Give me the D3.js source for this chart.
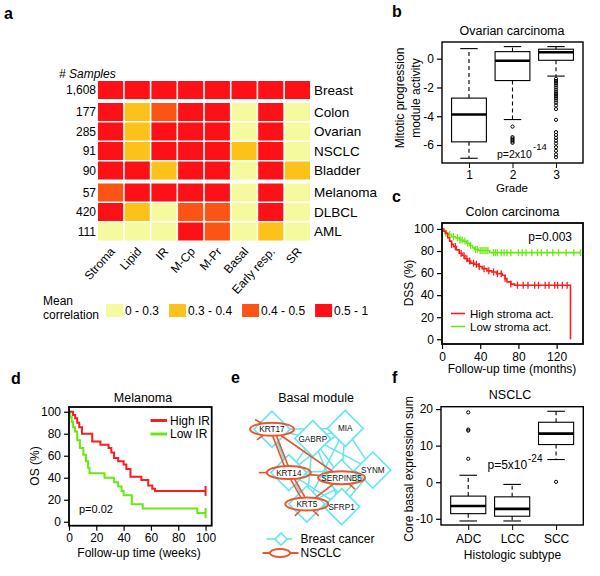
<!DOCTYPE html>
<html>
<head>
<meta charset="utf-8">
<script src="https://cdn.jsdelivr.net/npm/d3@7"></script>
<style>
  body { margin: 0; background: #fff; }
  svg { font-family: "Liberation Sans", Arial, Helvetica, sans-serif; }
</style>
</head>
<body>
<svg id="fig" width="600" height="576"></svg>
<script>
// ---- panel a: mean correlation of module activity across cancers
const modules = ["Stroma", "Lipid", "IR", "M-Cp", "M-Pr", "Basal", "Early resp.", "SR"];
const cancers = ["Breast", "Colon", "Ovarian", "NSCLC", "Bladder", "Melanoma", "DLBCL", "AML"];
const sampleCounts = ["1,608", "177", "285", "91", "90", "57", "420", "111"];
const cancerGroup = [0, 1, 1, 1, 1, 2, 2, 2];
// correlation bin per cell: 0 = 0-0.3, 1 = 0.3-0.4, 2 = 0.4-0.5, 3 = 0.5-1
const corrBin = [
  [3, 3, 3, 3, 3, 3, 3, 3],
  [3, 1, 2, 3, 3, 0, 3, 0],
  [3, 1, 3, 3, 3, 0, 3, 0],
  [3, 1, 3, 3, 3, 1, 3, 0],
  [3, 3, 1, 3, 3, 0, 3, 1],
  [2, 3, 3, 3, 3, 0, 3, 0],
  [3, 1, 0, 2, 2, 0, 3, 0],
  [0, 0, 0, 3, 2, 0, 1, 0]
];
const binLabels = ["0 - 0.3", "0.3 - 0.4", "0.4 - 0.5", "0.5 - 1"];

// ---- panel b: mitotic module activity by grade (ovarian)
const grades = ["1", "2", "3"];
// [lower whisker, Q1, median, Q3, upper whisker]
const gradeStats = [
  [-6.92, -5.78, -3.88, -2.74, 0.70],
  [-4.23, -1.52, -0.14, 0.49, 0.84],
  [-1.21, -0.11, 0.45, 0.66, 0.84]
];
const gradeOutliers = [
  [],
  [-4.72, -5.45, -5.55, -5.65, -5.75, -5.85],
  [-1.4, -1.55, -1.7, -1.85, -2.0, -2.15, -2.3, -2.45, -2.6, -2.75, -2.9, -3.05, -3.25, -3.5,
   -4.25, -5.1, -5.3, -5.5, -5.7, -5.9, -6.15, -6.4, -6.65, -6.85]
];

// ---- panel c: colon carcinoma DSS (time in months, survival %)
const colonHigh = [[0, 100], [2, 98], [4, 96], [6, 92], [8, 89], [10, 86], [12, 84], [15, 81], [18, 78],
  [21, 76], [24, 73], [27, 71], [30, 69], [34, 68], [38, 66], [42, 64], [47, 62], [52, 61], [57, 59.5],
  [63, 58], [66, 55], [68, 52], [72, 50], [76, 49], [134.5, 0]];
const colonHighCensor = [10, 14, 20, 23, 26, 29, 33, 36, 39, 44, 49, 54, 58, 62, 66, 72, 79, 85, 90, 97,
  101, 108, 112, 118, 121, 126, 131];
const colonLow = [[0, 100], [1, 98], [3, 96], [6, 95], [10, 93], [14, 92], [18, 90], [22, 89], [26, 87],
  [29, 85], [32, 83], [34, 81.5], [38, 80.5], [50, 78.5]];
const colonLowCensor = [4, 8, 12, 16, 19, 21, 24, 27, 30, 35, 37, 40, 42, 44, 46, 48, 54, 56, 58, 62, 65,
  68, 72, 80, 84, 88, 94, 100, 104, 110, 116, 122, 130, 138, 145];
const colonLowEnd = 145.5;

// ---- panel d: melanoma OS (time in weeks, survival %)
const melHigh = [[0, 100], [3, 97], [4.5, 94], [6, 90], [7.5, 86], [9.5, 80], [17, 73], [23, 70], [29, 67],
  [31, 63], [33, 58], [36, 55], [40, 52], [42, 48], [45, 41], [53, 38], [58, 33], [61, 30], [63, 28]];
const melLow = [[0, 100], [1, 95], [2, 91], [3, 86], [4.4, 82], [6, 74], [8, 67], [10.5, 61], [12.4, 55],
  [14, 49], [15, 44], [26, 40], [33, 36], [36, 32], [38.5, 28], [40, 24], [46, 16], [54, 12], [94, 8]];
const melEnd = 100;

// ---- panel e: basal module network (layout units 0-100)
const geneNames = ["KRT17", "GABRP", "MIA", "KRT14", "SERPINB5", "SYNM", "KRT5", "SFRP1"];
const geneX = [10, 44, 71, 24, 68, 94, 39, 68];
const geneY = [5, 16, 4, 56, 62, 53, 93, 96];
const inNSCLC = ["KRT17", "KRT14", "SERPINB5", "KRT5"];
const breastEdges = [
  ["KRT17", "GABRP"], ["KRT17", "MIA"], ["KRT17", "KRT14"], ["KRT17", "SERPINB5"], ["KRT17", "KRT5"],
  ["GABRP", "MIA"], ["GABRP", "KRT14"], ["GABRP", "SERPINB5"], ["GABRP", "KRT5"], ["GABRP", "SYNM"],
  ["GABRP", "SFRP1"], ["MIA", "SERPINB5"], ["MIA", "SYNM"], ["MIA", "KRT14"], ["MIA", "KRT5"],
  ["KRT14", "SERPINB5"], ["KRT14", "KRT5"], ["KRT14", "SFRP1"], ["KRT14", "SYNM"],
  ["SERPINB5", "KRT5"], ["SERPINB5", "SYNM"], ["SERPINB5", "SFRP1"],
  ["KRT5", "SFRP1"], ["KRT5", "SYNM"], ["SFRP1", "SYNM"]
];
const nsclcEdges = [
  ["KRT17", "KRT14", 2], ["KRT17", "SERPINB5", 1], ["KRT14", "SERPINB5", 1],
  ["KRT14", "KRT5", 2], ["KRT5", "SERPINB5", 1]
];
// NSCLC edges leaving the drawn module: [gene, direction in degrees, counter-clockwise from east]
const nsclcStubs = [["KRT17", 150], ["KRT17", 215], ["KRT14", 180], ["SERPINB5", -40],
  ["KRT5", -135], ["KRT5", -45]];

// ---- panel f: core basal expression by histologic subtype (NSCLC)
const subtypes = ["ADC", "LCC", "SCC"];
const subtypeStats = [
  [-10.6, -8.6, -6.5, -3.8, 1.9],
  [-10.6, -9.3, -7.3, -4.0, -0.6],
  [6.2, 10.3, 13.3, 16.4, 19.4]
];
const subtypeOutliers = [[19.1, 14.1, 14.4, 6.4], [], [0.1]];

// ---------------------------------------------------------------
const svg = d3.select("#fig");
const FONT = '"Liberation Sans", Arial, Helvetica, sans-serif';
const RED = "#fb1d1d", GREEN = "#66ea10", CYAN = "#62e6ef", ORANGE = "#f1542b";

function txt(g, x, y, s, size, anchor) {
  return g.append("text").attr("x", x).attr("y", y).attr("font-size", size)
    .attr("text-anchor", anchor || "start").attr("fill", "#000").text(s);
}

// panel letters
[["a", 4, 19], ["b", 392, 17], ["c", 392, 202], ["d", 11, 384], ["e", 231, 383], ["f", 392, 383]]
  .forEach(d => txt(svg, d[1], d[2], d[0], 16).attr("font-weight", "bold"));

// ====================== panel a ======================
const ga = svg.append("g");
const xMod = d3.scaleBand().domain(modules).range([98, 310]).paddingInner(0.06);
const yRow = d3.scaleLinear().domain([0, cancers.length - 1]).range([81, 81 + 7 * 19.5]);
const rowTop = i => yRow(i) + cancerGroup[i] * 2.5;
const cellH = 18;
const heatColor = d3.scaleOrdinal().domain([0, 1, 2, 3]).range(["#f6fa9e", "#fdc21a", "#fc5414", "#fd1016"]);

const cells = [];
corrBin.forEach((row, i) => row.forEach((v, j) => cells.push({ i, j, v })));
ga.selectAll("rect.cell").data(cells).enter().append("rect")
  .attr("class", "cell")
  .attr("x", d => xMod(modules[d.j]))
  .attr("y", d => rowTop(d.i))
  .attr("width", xMod.bandwidth())
  .attr("height", cellH)
  .attr("fill", d => heatColor(d.v));

txt(ga, 59, 78, "# Samples", 12).attr("font-style", "italic");
ga.selectAll("text.cnt").data(sampleCounts).enter().append("text")
  .attr("x", 96).attr("y", (d, i) => rowTop(i) + cellH / 2 + 4.3)
  .attr("text-anchor", "end").attr("font-size", 12).text(d => d);
ga.selectAll("text.cancer").data(cancers).enter().append("text")
  .attr("x", 314).attr("y", (d, i) => rowTop(i) + cellH / 2 + 4.7)
  .attr("font-size", 13.5).text(d => d);
ga.selectAll("text.mod").data(modules).enter().append("text")
  .attr("text-anchor", "end").attr("font-size", 12)
  .attr("transform", d => `translate(${xMod(d) + xMod.bandwidth() / 2 + 5},252) rotate(-48)`)
  .text(d => d);

// legend
txt(ga, 43, 304.5, "Mean", 12);
txt(ga, 43, 318.5, "correlation", 12);
let lx = 106;
binLabels.forEach((lab, k) => {
  ga.append("rect").attr("x", lx).attr("y", 304).attr("width", 17).attr("height", 13).attr("fill", heatColor(k));
  const t = txt(ga, lx + 19, 315, lab, 12);
  lx += 19 + t.node().getComputedTextLength() + 10;
});

// shared helpers for framed plots
function yAxis(g, y, ticks, x0, size) {
  g.append("g").attr("transform", `translate(${x0},0)`)
    .call(d3.axisLeft(y).tickValues(ticks).tickSize(5).tickPadding(3).tickFormat(d => String(d)))
    .attr("font-size", size || 12).attr("font-family", FONT)
    .call(a => a.select(".domain").remove())
    .call(a => a.selectAll("line").attr("stroke-width", 1.2))
    .call(a => a.selectAll("text").attr("fill", "#000"));
}
function xAxis(g, x, ticks, y0, fmt, size) {
  g.append("g").attr("transform", `translate(0,${y0})`)
    .call(d3.axisBottom(x).tickValues(ticks).tickSize(5).tickPadding(3).tickFormat(fmt || (d => String(d))))
    .attr("font-size", size || 12).attr("font-family", FONT)
    .call(a => a.select(".domain").remove())
    .call(a => a.selectAll("line").attr("stroke-width", 1.2))
    .call(a => a.selectAll("text").attr("fill", "#000"));
}
function frame(g, x, y, sw) {
  const [x0, x1] = x.range(), [y0, y1] = y.range();
  g.append("rect").attr("x", x0).attr("y", y1).attr("width", x1 - x0).attr("height", y0 - y1)
    .attr("fill", "none").attr("stroke", "#000").attr("stroke-width", sw);
}
function vlabel(g, x, y, s, size) {
  return g.append("text").attr("transform", `translate(${x},${y}) rotate(-90)`)
    .attr("text-anchor", "middle").attr("font-size", size || 12).text(s);
}
function boxplot(g, x, y, stats, outliers) {
  const bw = (x(2) - x(1)) * 0.8;
  stats.forEach((s, k) => {
    const cx = x(k + 1);
    const [lo, q1, med, q3, hi] = s;
    [[q3, hi], [q1, lo]].forEach(w => g.append("line")
      .attr("x1", cx).attr("x2", cx).attr("y1", y(w[0])).attr("y2", y(w[1]))
      .attr("stroke", "#000").attr("stroke-width", 1.1).attr("stroke-dasharray", "4,3"));
    [lo, hi].forEach(v => g.append("line")
      .attr("x1", cx - bw / 4).attr("x2", cx + bw / 4).attr("y1", y(v)).attr("y2", y(v))
      .attr("stroke", "#000").attr("stroke-width", 1.1));
    g.append("rect").attr("x", cx - bw / 2).attr("y", y(q3)).attr("width", bw).attr("height", y(q1) - y(q3))
      .attr("fill", "#fff").attr("stroke", "#000").attr("stroke-width", 1.1);
    g.append("line").attr("x1", cx - bw / 2).attr("x2", cx + bw / 2).attr("y1", y(med)).attr("y2", y(med))
      .attr("stroke", "#000").attr("stroke-width", 2.6);
    g.selectAll(null).data(outliers[k]).enter().append("circle")
      .attr("cx", cx).attr("cy", v => y(v)).attr("r", 1.6)
      .attr("fill", "none").attr("stroke", "#000").attr("stroke-width", 1);
  });
}

// ====================== panel b ======================
const gb = svg.append("g");
const xb = d3.scaleLinear().domain([0.38, 3.62]).range([442, 583]);
const yb = d3.scaleLinear().domain([-7.25, 1.16]).range([163, 42]);
txt(gb, 512, 35, "Ovarian carcinoma", 12.5, "middle");
boxplot(gb, xb, yb, gradeStats, gradeOutliers);
frame(gb, xb, yb, 1.4);
yAxis(gb, yb, [-6, -4, -2, 0], 442);
gb.append("g").attr("transform", "translate(0,163)")
  .call(d3.axisBottom(d3.scalePoint().domain(grades).range([xb(1), xb(3)])).tickSize(5).tickPadding(2.5))
  .attr("font-size", 12).attr("font-family", FONT)
  .call(a => a.select(".domain").remove())
  .call(a => a.selectAll("text").attr("fill", "#000"));
txt(gb, 512, 192, "Grade", 11.5, "middle");
vlabel(gb, 404, 98, "Mitotic progression");
vlabel(gb, 419.5, 98, "module activity");
txt(gb, 497, 158, "p=2x10", 10.5);
gb.append("text").attr("x", 533).attr("y", 150).attr("font-size", 9.5).text("-14");

// ====================== panel c ======================
const gc = svg.append("g");
const xc = d3.scaleLinear().domain([0, 147.6]).range([442, 583]);
const yc = d3.scaleLinear().domain([-4.3, 105.4]).range([344, 223]);
txt(gc, 512.5, 215.5, "Colon carcinoma", 12.5, "middle");

function survAt(steps, t) {
  let s = steps[0][1];
  steps.forEach(d => { if (d[0] <= t) s = d[1]; });
  return s;
}
function kmCurve(g, x, y, steps, endT, color, sw) {
  const pts = steps.concat([[endT, steps[steps.length - 1][1]]]);
  g.append("path").attr("d", d3.line().x(d => x(d[0])).y(d => y(d[1])).curve(d3.curveStepAfter)(pts))
    .attr("fill", "none").attr("stroke", color).attr("stroke-width", sw);
}
function censorMarks(g, x, y, steps, times, color, h, sw) {
  g.selectAll(null).data(times).enter().append("line")
    .attr("x1", t => x(t)).attr("x2", t => x(t))
    .attr("y1", t => y(survAt(steps, t)) - h).attr("y2", t => y(survAt(steps, t)) + h)
    .attr("stroke", color).attr("stroke-width", sw);
}
kmCurve(gc, xc, yc, colonLow, colonLowEnd, GREEN, 1.6);
censorMarks(gc, xc, yc, colonLow, colonLowCensor, GREEN, 3.5, 1.3);
kmCurve(gc, xc, yc, colonHigh, colonHigh[colonHigh.length - 1][0], RED, 1.6);
censorMarks(gc, xc, yc, colonHigh, colonHighCensor, RED, 3.5, 1.3);
frame(gc, xc, yc, 1.8);
yAxis(gc, yc, [0, 20, 40, 60, 80, 100], 442);
xAxis(gc, xc, [0, 40, 80, 120], 344);
txt(gc, 512, 373, "Follow-up time (months)", 12, "middle");
vlabel(gc, 413, 283, "DSS (%)");
txt(gc, 572, 241, "p=0.003", 12, "end");
[["High stroma act.", RED, 313.5], ["Low stroma act.", GREEN, 326.5]].forEach(d => {
  gc.append("line").attr("x1", 451).attr("x2", 465).attr("y1", d[2]).attr("y2", d[2])
    .attr("stroke", d[1]).attr("stroke-width", 1.6);
  txt(gc, 470, d[2] + 4, d[0], 11.5);
});

// ====================== panel d ======================
const gd = svg.append("g");
const xd = d3.scaleLinear().domain([0, 104.5]).range([69, 211.7]);
const yd = d3.scaleLinear().domain([-3.6, 104.3]).range([525.7, 407]);
txt(gd, 143, 401.5, "Melanoma", 12.5, "middle");
kmCurve(gd, xd, yd, melLow, melEnd, GREEN, 2);
censorMarks(gd, xd, yd, melLow, [melEnd], GREEN, 5, 2);
kmCurve(gd, xd, yd, melHigh, melEnd, RED, 2);
censorMarks(gd, xd, yd, melHigh, [melEnd], RED, 5, 2);
frame(gd, xd, yd, 1.8);
yAxis(gd, yd, [0, 20, 40, 60, 80, 100], 69);
xAxis(gd, xd, [0, 20, 40, 60, 80, 100], 525.7);
txt(gd, 139, 556.5, "Follow-up time (weeks)", 12, "middle");
vlabel(gd, 38.5, 466, "OS (%)");
txt(gd, 79, 513, "p=0.02", 11);
[["High IR", RED, 420.5], ["Low IR", GREEN, 434]].forEach(d => {
  gd.append("line").attr("x1", 150.5).attr("x2", 167).attr("y1", d[2]).attr("y2", d[2])
    .attr("stroke", d[1]).attr("stroke-width", 3);
  txt(gd, 170, d[2] + 4.3, d[0], 12);
});

// ====================== panel e ======================
const ge = svg.append("g");
const xe = d3.scaleLinear().domain([0, 100]).range([260, 380]);
const ye = d3.scaleLinear().domain([0, 100]).range([425, 510]);
txt(ge, 316, 401.5, "Basal module", 12.5, "middle");
const pos = {};
geneNames.forEach((n, i) => { pos[n] = [xe(geneX[i]), ye(geneY[i])]; });
const half = 18, rx = { KRT17: 22, KRT14: 22, SERPINB5: 23.5, KRT5: 21.5 }, ry = 6.5;

ge.selectAll("line.be").data(breastEdges).enter().append("line")
  .attr("x1", d => pos[d[0]][0]).attr("y1", d => pos[d[0]][1])
  .attr("x2", d => pos[d[1]][0]).attr("y2", d => pos[d[1]][1])
  .attr("stroke", CYAN).attr("stroke-width", 1.5);
ge.selectAll("path.dia").data(geneNames).enter().append("path")
  .attr("d", n => `M${pos[n][0]},${pos[n][1] - half}L${pos[n][0] + half},${pos[n][1]}L${pos[n][0]},${pos[n][1] + half}L${pos[n][0] - half},${pos[n][1]}Z`)
  .attr("fill", "#fff").attr("stroke", CYAN).attr("stroke-width", 1.6);

function ellipseEdge(n, dx, dy) {
  const t = 1 / Math.sqrt((dx / rx[n]) ** 2 + (dy / ry) ** 2);
  return [pos[n][0] + dx * t, pos[n][1] + dy * t];
}
nsclcEdges.forEach(([a, b, k]) => {
  const dx = pos[b][0] - pos[a][0], dy = pos[b][1] - pos[a][1];
  const p = ellipseEdge(a, dx, dy), q = ellipseEdge(b, -dx, -dy);
  const len = Math.hypot(dx, dy), ox = -dy / len, oy = dx / len;
  const offs = k === 2 ? [-1.8, 1.8] : [0];
  offs.forEach(o => ge.append("line")
    .attr("x1", p[0] + ox * o).attr("y1", p[1] + oy * o).attr("x2", q[0] + ox * o).attr("y2", q[1] + oy * o)
    .attr("stroke", ORANGE).attr("stroke-width", 1.6));
});
nsclcStubs.forEach(([n, ang]) => {
  const dx = Math.cos(ang * Math.PI / 180), dy = -Math.sin(ang * Math.PI / 180);
  const p = ellipseEdge(n, dx, dy);
  ge.append("line").attr("x1", p[0]).attr("y1", p[1]).attr("x2", p[0] + dx * 8).attr("y2", p[1] + dy * 8)
    .attr("stroke", ORANGE).attr("stroke-width", 1.6);
});
ge.selectAll("ellipse").data(inNSCLC).enter().append("ellipse")
  .attr("cx", n => pos[n][0]).attr("cy", n => pos[n][1]).attr("rx", n => rx[n]).attr("ry", ry)
  .attr("fill", "none").attr("stroke", ORANGE).attr("stroke-width", 2);
ge.selectAll("text.gene").data(geneNames).enter().append("text")
  .attr("x", n => pos[n][0]).attr("y", n => pos[n][1] + 3)
  .attr("text-anchor", "middle").attr("font-size", 8.2).attr("fill", "#111").text(n => n);

// legend
ge.append("line").attr("x1", 266.5).attr("x2", 292).attr("y1", 539).attr("y2", 539).attr("stroke", CYAN).attr("stroke-width", 1.6);
ge.append("path").attr("d", "M281,533L287,539L281,545L275,539Z").attr("fill", "#fff").attr("stroke", CYAN).attr("stroke-width", 1.6);
txt(ge, 300.5, 543, "Breast cancer", 12);
ge.append("line").attr("x1", 262.5).attr("x2", 298.5).attr("y1", 553).attr("y2", 553).attr("stroke", ORANGE).attr("stroke-width", 1.8);
ge.append("ellipse").attr("cx", 280).attr("cy", 553).attr("rx", 10).attr("ry", 4).attr("fill", "#fff").attr("stroke", ORANGE).attr("stroke-width", 1.8);
txt(ge, 300.5, 557, "NSCLC", 12);

// ====================== panel f ======================
const gf = svg.append("g");
const xf = d3.scaleLinear().domain([0.38, 3.62]).range([441, 583.3]);
const yf = d3.scaleLinear().domain([-11.7, 20.65]).range([525, 406.7]);
txt(gf, 510, 398.5, "NSCLC", 12.5, "middle");
boxplot(gf, xf, yf, subtypeStats, subtypeOutliers);
frame(gf, xf, yf, 1.4);
yAxis(gf, yf, [-10, 0, 10, 20], 441);
gf.append("g").attr("transform", "translate(0,525)")
  .call(d3.axisBottom(d3.scalePoint().domain(subtypes).range([xf(1), xf(3)])).tickSize(5).tickPadding(4))
  .attr("font-size", 12).attr("font-family", FONT)
  .call(a => a.select(".domain").remove())
  .call(a => a.selectAll("text").attr("fill", "#000"));
txt(gf, 512.5, 558.5, "Histologic subtype", 12, "middle");
vlabel(gf, 413, 469, "Core basal expression sum");
txt(gf, 487.5, 469, "p=5x10", 12);
gf.append("text").attr("x", 528).attr("y", 461.5).attr("font-size", 10).text("-24");
</script>
</body>
</html>
